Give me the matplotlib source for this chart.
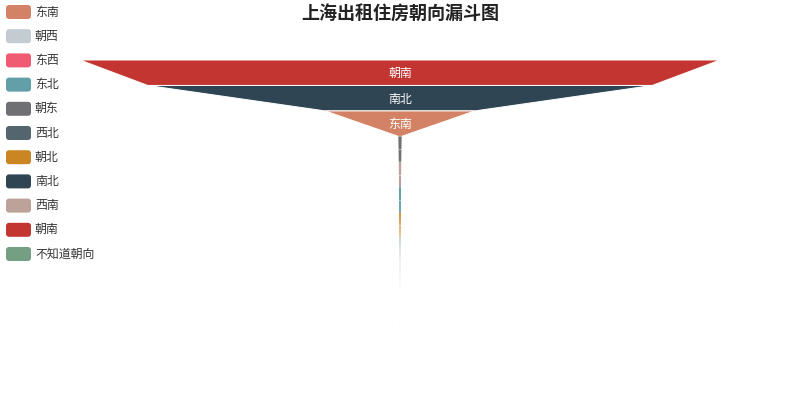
import matplotlib
matplotlib.use('Agg')
import matplotlib.pyplot as plt
from matplotlib.patches import Polygon, FancyBboxPatch

plt.rcParams['font.family'] = ['Noto Sans CJK SC', 'DejaVu Sans']

# legend (data) order
names = ['东南', '朝西', '东西', '东北', '朝东', '西北', '朝北', '南北', '西南', '朝南', '不知道朝向']
values = [2340, 0.5, 0.2, 32, 52, 3, 28, 7880, 38, 10000, 12]
colors = ['#d48265', '#c4ccd3', '#f05b72', '#61a0a8', '#6e7074', '#546570',
          '#ca8622', '#2f4554', '#bda29a', '#c23531', '#749f83']

W, H = 800, 400
fig = plt.figure(figsize=(8, 4), dpi=100)
ax = fig.add_axes([0, 0, 1, 1])
ax.set_xlim(0, W)
ax.set_ylim(H, 0)
ax.axis('off')

# funnel area (echarts defaults)
left, top, fw, fh = 80, 60, 640, 280
order = sorted(range(len(values)), key=lambda i: -values[i])
vmax = max(values)
step = fh / len(order)
cx = left + fw / 2

def half(v):
    return v / vmax * fw / 2

for k, i in enumerate(order):
    y0 = top + k * step
    y1 = y0 + step
    w0 = half(values[i])
    w1 = half(values[order[k + 1]]) if k + 1 < len(order) else 0
    big = values[i] / vmax > 0.05
    poly = Polygon([(cx - w0, y0), (cx + w0, y0), (cx + w1, y1), (cx - w1, y1)],
                   closed=True, facecolor=colors[i],
                   edgecolor='white' if big else 'none', linewidth=0.7)
    ax.add_patch(poly)
    if big:
        ax.text(cx, (y0 + y1) / 2 + 1, names[i], color='white', fontsize=8.6,
                ha='center', va='center')
    else:
        ax.plot([cx - 1.2, cx + 1.2], [(y0 + y1) / 2, (y0 + y1) / 2], color='white',
                linewidth=0.6, alpha=0.6)

# legend
for j, (n, c) in enumerate(zip(names, colors)):
    y = 5 + j * 24.2
    ax.add_patch(FancyBboxPatch((6, y), 25, 14, boxstyle='round,pad=0,rounding_size=3',
                                facecolor=c, edgecolor='none'))
    ax.text(35, y + 7, n, fontsize=8.6, color='#333333', ha='left', va='center')

ax.text(400, 14, '上海出租住房朝向漏斗图', fontsize=13, fontweight='bold',
        color='#222222', ha='center', va='center')

fig.savefig('out.png', dpi=100)
